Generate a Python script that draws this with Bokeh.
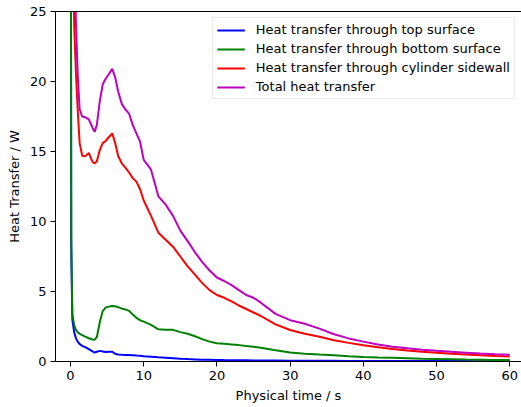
from bokeh.plotting import figure
from bokeh.models import Range1d, LinearAxis, FixedTicker, Legend, LegendItem
from bokeh.embed import file_html
from bokeh.resources import INLINE

# ---- data ----
time_s = [0.0, 0.1, 0.25, 0.5, 0.75, 1.0, 1.25, 1.6, 2.0, 2.5, 3.0, 3.3, 3.6, 4.0, 4.4,
          4.8, 5.2, 5.7, 6.1, 6.5, 7.0, 7.5, 8.0, 8.5, 9.0, 9.5, 10, 11, 12, 13,
          14, 15, 16, 17, 18, 19, 20, 21, 22, 23, 24, 25, 26, 28, 30,
          32, 34, 36, 38, 40, 42, 44, 46, 48, 50, 52, 54, 56, 58, 60]

top_surface = [60, 8.0, 3.0, 2.1, 1.65, 1.4, 1.25, 1.12, 1.02, 0.88, 0.72, 0.64, 0.7, 0.76, 0.72,
               0.68, 0.7, 0.7, 0.55, 0.5, 0.48, 0.47, 0.46, 0.44, 0.42, 0.41, 0.38, 0.34, 0.3, 0.27,
               0.24, 0.2, 0.17, 0.15, 0.13, 0.12, 0.11, 0.1, 0.095, 0.09, 0.085, 0.08, 0.075, 0.068, 0.06,
               0.055, 0.05, 0.046, 0.042, 0.04, 0.037, 0.035, 0.033, 0.031, 0.03, 0.028, 0.027, 0.026, 0.025, 0.024]

bottom_surface = [60, 9.0, 3.4, 2.6, 2.25, 2.08, 1.98, 1.88, 1.78, 1.66, 1.57, 1.56, 1.75, 2.8, 3.6,
                  3.85, 3.92, 3.97, 3.95, 3.88, 3.78, 3.72, 3.62, 3.35, 3.12, 2.95, 2.85, 2.62, 2.3, 2.27,
                  2.26, 2.1, 1.98, 1.8, 1.6, 1.42, 1.3, 1.26, 1.22, 1.17, 1.1, 1.05, 0.98, 0.8, 0.64,
                  0.56, 0.5, 0.45, 0.38, 0.33, 0.29, 0.26, 0.23, 0.2, 0.18, 0.16, 0.14, 0.13, 0.11, 0.1]

sidewall = [60, 50, 35, 24, 20.5, 17.8, 15.6, 14.7, 14.65, 14.9, 14.25, 14.15, 14.3, 15.1, 15.6,
            15.75, 16.0, 16.3, 15.6, 14.7, 14.15, 13.85, 13.5, 13.1, 12.85, 12.3, 11.5, 10.4, 9.2, 8.7,
            8.2, 7.5, 6.8, 6.2, 5.6, 5.1, 4.75, 4.55, 4.3, 4.0, 3.75, 3.5, 3.25, 2.65, 2.25,
            1.98, 1.77, 1.52, 1.33, 1.16, 1.02, 0.89, 0.79, 0.7, 0.62, 0.56, 0.5, 0.45, 0.4, 0.36]

total = [70, 65, 45, 30, 24, 20.3, 18.0, 17.5, 17.45, 17.3, 16.7, 16.4, 16.9, 18.6, 19.8,
         20.2, 20.5, 20.9, 20.3, 19.3, 18.4, 18.0, 17.7, 16.9, 16.3, 15.7, 14.4, 13.7, 11.8, 11.2,
         10.4, 9.35, 8.6, 7.8, 7.1, 6.5, 6.0, 5.75, 5.45, 5.1, 4.75, 4.55, 4.2, 3.4, 2.95,
         2.7, 2.35, 1.95, 1.65, 1.42, 1.22, 1.06, 0.95, 0.84, 0.76, 0.69, 0.63, 0.57, 0.52, 0.48]

series_labels = ["Heat transfer through top surface",
                 "Heat transfer through bottom surface",
                 "Heat transfer through cylinder sidewall",
                 "Total heat transfer"]
series_colors = ["#0000ff", "#008000", "#ff0000", "#bf00bf"]

x_ticks = [0, 10, 20, 30, 40, 50, 60]
y_ticks = [0, 5, 10, 15, 20, 25]

FONT = "DejaVu Sans"

p = figure(width=521, height=407, output_backend="svg", toolbar_location=None,
           x_range=Range1d(-2.05, 61.6), y_range=Range1d(0, 25),
           min_border_left=55, min_border_right=0, min_border_top=11, min_border_bottom=46)
p.outline_line_color = None
p.xgrid.visible = False
p.ygrid.visible = False
p.background_fill_color = "white"
p.border_fill_color = "white"

renderers = []
for vals, col in zip([top_surface, bottom_surface, sidewall, total], series_colors):
    r = p.line(time_s, vals, line_color=col, line_width=2)
    renderers.append(r)

for ax in (p.xaxis[0], p.yaxis[0]):
    ax.axis_line_color = "black"
    ax.major_tick_line_color = "black"
    ax.major_tick_out = 5
    ax.major_tick_in = 0
    ax.minor_tick_out = 0
    ax.minor_tick_in = 0
    ax.major_label_text_font = FONT
    ax.major_label_text_font_size = "13px"
    ax.major_label_text_color = "black"
    ax.axis_label_text_font = FONT
    ax.axis_label_text_font_size = "13px"
    ax.axis_label_text_font_style = "normal"
    ax.axis_label_text_color = "black"
    ax.major_label_standoff = 4

p.xaxis[0].ticker = FixedTicker(ticks=x_ticks)
p.yaxis[0].ticker = FixedTicker(ticks=y_ticks)
p.xaxis[0].axis_label = "Physical time / s"
p.yaxis[0].axis_label = "Heat Transfer / W"

top_axis = LinearAxis(ticker=FixedTicker(ticks=[]), axis_line_color="black",
                      major_tick_out=0, major_tick_in=0, minor_tick_out=0, minor_tick_in=0,
                      major_label_text_font_size="0px")
p.add_layout(top_axis, "above")

legend = Legend(items=[LegendItem(label=lab, renderers=[r]) for lab, r in zip(series_labels, renderers)],
                location="top_right")
legend.margin = 6
legend.padding = 4
legend.spacing = 4
legend.label_height = 14
legend.glyph_height = 14
legend.glyph_width = 28
legend.label_standoff = 11
legend.label_text_font = FONT
legend.label_text_font_size = "13px"
legend.label_text_color = "black"
legend.border_line_color = "#d6d6d6"
legend.border_line_width = 1
legend.background_fill_alpha = 0.8
p.add_layout(legend, "center")

open("out.html", "w").write(file_html(p, INLINE))
